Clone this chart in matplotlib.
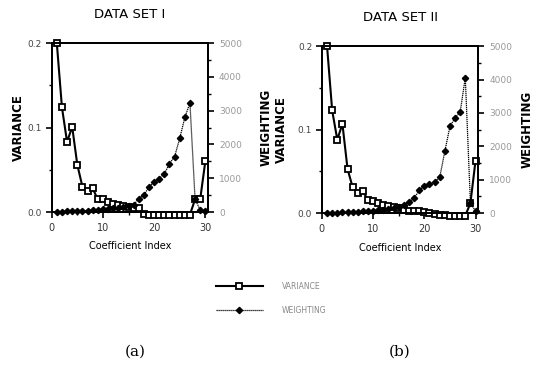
import matplotlib
matplotlib.use("Agg")
import matplotlib.pyplot as plt
from matplotlib.ticker import MultipleLocator

# ---- data ----
coef_index = list(range(1, 31))

variance_set1 = [0.200, 0.124, 0.083, 0.101, 0.056, 0.030, 0.025, 0.028, 0.015, 0.015,
                 0.012, 0.010, 0.008, 0.007, 0.006, 0.005, 0.005, -0.002, -0.003, -0.003,
                 -0.003, -0.003, -0.004, -0.004, -0.004, -0.004, -0.003, 0.015, 0.015, 0.060]
weighting_set1 = [0, 10, 20, 20, 30, 30, 40, 50, 60, 80,
                  90, 110, 130, 150, 170, 210, 400, 500, 740, 890,
                  990, 1130, 1430, 1640, 2180, 2800, 3230, 380, 60, 20]

variance_set2 = [0.200, 0.123, 0.088, 0.107, 0.053, 0.031, 0.024, 0.026, 0.016, 0.014,
                 0.012, 0.010, 0.008, 0.007, 0.006, 0.004, 0.003, 0.002, 0.002, 0.001,
                 0.000, -0.001, -0.002, -0.002, -0.003, -0.003, -0.003, -0.003, 0.012, 0.063]
weighting_set2 = [0, 10, 10, 20, 20, 30, 40, 50, 60, 70,
                  80, 100, 120, 140, 170, 240, 340, 440, 690, 810,
                  870, 940, 1070, 1850, 2600, 2850, 3030, 4060, 300, 60]

titles = ["DATA SET I", "DATA SET II"]
panel_tags = ["(a)", "(b)"]
series_names = ["VARIANCE", "WEIGHTING"]
xticks = [0, 10, 20, 30]
var_ticks = [0.0, 0.1, 0.2]
var_ticklabels = ["0.0", "0.1", "0.2"]
w_ticks = [0, 1000, 2000, 3000, 4000, 5000]

# ---- figure ----
fig = plt.figure(figsize=(5.33, 3.82), dpi=100)
plt.rcParams['font.family'] = ['DejaVu Sans']

positions = [[0.097, 0.445, 0.293, 0.442], [0.604, 0.442, 0.293, 0.437]]
datasets = [(variance_set1, weighting_set1), (variance_set2, weighting_set2)]
left_label_x = [-0.171, -0.218]
right_label_x = [1.333, 1.27]
tag_x = [0.253, 0.750]

handles = None
for i, (pos, (var, wt)) in enumerate(zip(positions, datasets)):
    ax = fig.add_axes(pos)
    ax2 = ax.twinx()
    l1, = ax.plot(coef_index, var, color='black', lw=1.5, marker='s', ms=4.5,
                  mfc='white', mec='black', mew=1.3, clip_on=False, zorder=3)
    l2, = ax2.plot(coef_index, wt, color='black', lw=0.9, linestyle=(0, (1, 0.6)),
                   marker='D', ms=3.2, mfc='black', mec='black', clip_on=False, zorder=3)
    if handles is None:
        handles = [l1, l2]
    ax.set_xlim(0, 30.5)
    ax.set_ylim(0, 0.2)
    ax2.set_ylim(0, 5000)
    ax.set_xticks(xticks)
    ax.xaxis.set_minor_locator(MultipleLocator(5))
    ax.set_yticks(var_ticks)
    ax.set_yticklabels(var_ticklabels)
    ax.yaxis.set_minor_locator(MultipleLocator(0.05))
    ax2.set_yticks(w_ticks)
    ax2.yaxis.set_minor_locator(MultipleLocator(500))
    for a in (ax, ax2):
        for s in a.spines.values():
            s.set_linewidth(1.4)
        a.tick_params(which='major', length=4, width=1.2, labelsize=6.5, direction='out')
        a.tick_params(which='minor', length=2.5, width=1.0, direction='out')
    ax.tick_params(axis='y', colors='black', labelcolor='#444444', pad=3)
    ax2.tick_params(axis='y', labelcolor='#999999', pad=4)
    ax.tick_params(axis='x', labelcolor='#333333', pad=4, labelsize=7)
    ax.set_title(titles[i], fontsize=9.5, pad=18)
    ax.set_xlabel("Coefficient Index", fontsize=7, labelpad=6)
    ax.set_ylabel(series_names[0], fontsize=8.5, fontweight='heavy')
    ax2.set_ylabel(series_names[1], fontsize=8.5, fontweight='heavy', rotation=90)
    ax.yaxis.set_label_coords(left_label_x[i], 0.5)
    ax2.yaxis.set_label_coords(right_label_x[i], 0.5)
    fig.text(tag_x[i], 0.079, panel_tags[i], ha='center', va='center',
             fontsize=11, family='DejaVu Serif')

fig.legend(handles, series_names, loc='center left', bbox_to_anchor=(0.392, 0.219),
           frameon=False, fontsize=5.5, handlelength=6.2, handletextpad=2.4,
           labelspacing=2.0, labelcolor='#888888')

fig.savefig("out.png", dpi=100)
